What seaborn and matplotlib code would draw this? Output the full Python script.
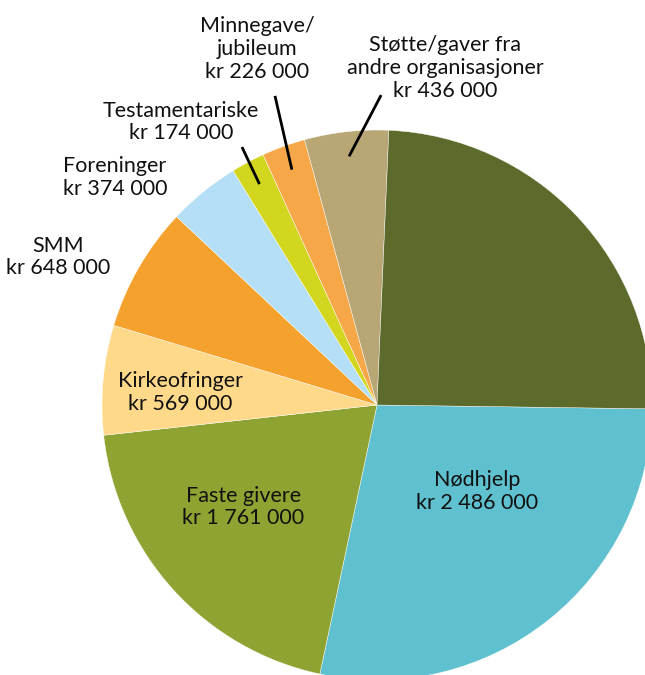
import numpy as np
import matplotlib
matplotlib.use("Agg")
import matplotlib.pyplot as plt
import seaborn as sns

# data (clockwise from 3 o'clock)
categories = ["Nødhjelp", "Faste givere", "Kirkeofringer", "SMM", "Foreninger",
              "Testamentariske", "Minnegave/\njubileum",
              "Støtte/gaver fra\nandre organisasjoner", ""]
values = [2486000, 1761000, 569000, 648000, 374000, 174000, 226000, 436000, 2170000]
colors = ["#5FC0CF", "#8FA332", "#FFD98A", "#F4A12D", "#B4DFF6",
          "#D3D61F", "#F6A848", "#B8A675", "#5C6B2B"]

# label placement (x, y in pie radii) and leader lines
label_pos = [(0.364, -0.313), (-0.487, -0.371), (-0.716, 0.047), (-1.16, 0.538),
             (-0.953, 0.826), (-0.713, 1.029), (-0.436, 1.295), (0.247, 1.225), None]
leader_start = {5: (-0.491, 0.938), 6: (-0.371, 1.124), 7: (0.015, 1.127)}

sns.set_theme(style="white")
plt.rcParams['font.family'] = ['Lato', 'DejaVu Sans']

fig = plt.figure(figsize=(6.45, 6.75), dpi=100)
ax = fig.add_axes([0, 0, 1, 1])

wedges, _ = ax.pie(values, colors=colors, startangle=-0.8, counterclock=False,
                   radius=1, wedgeprops=dict(linewidth=0.3, edgecolor="white"))

for i, (name, v) in enumerate(zip(categories, values)):
    if label_pos[i] is None:
        continue
    txt = name + "\n" + "kr " + f"{v:,}".replace(",", " ")
    ax.text(label_pos[i][0], label_pos[i][1], txt, ha="center", va="center",
            fontsize=15.5, color="#111111", linespacing=1.18)
    if i in leader_start:
        w = wedges[i]
        mid = np.deg2rad((w.theta1 + w.theta2) / 2)
        end = (0.91 * np.cos(mid), 0.91 * np.sin(mid))
        sx, sy = leader_start[i]
        ax.plot([sx, end[0]], [sy, end[1]], color="black", lw=2, solid_capstyle="butt")

ax.set_xlim(-377 / 275, 268 / 275)
ax.set_ylim(-270 / 275, 405 / 275)
ax.set_aspect("equal")
ax.axis("off")

fig.savefig("out.png", dpi=100)
